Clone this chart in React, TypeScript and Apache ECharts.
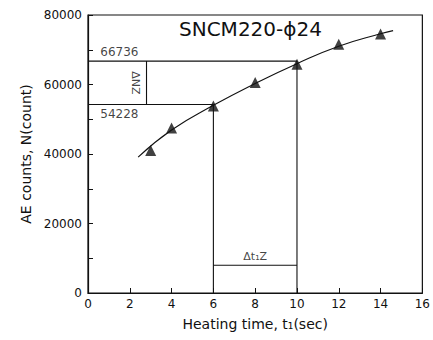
import React, { useEffect, useRef } from "react";
import * as echarts from "echarts";

const title = "SNCM220-ϕ24";
const xName = "Heating time, t₁(sec)";
const yName = "AE counts, N(count)";
const markerX = [3, 4, 6, 8, 10, 12, 14];
const markerY = [41000, 47500, 53800, 60600, 65800, 71600, 74500];
const curveX = [2.4, 4, 6, 8, 10, 12, 14, 14.6];
const curveY = [39100, 46900, 54000, 60300, 66000, 71000, 74600, 75500];
const levels = [54228, 66736];
const times = [6, 10];
const dtLevel = 8000;
const dnX = 2.8;
const dnLabel = "ΔNZ";
const dtLabel = "Δt₁Z";

const FONT = "DejaVu Sans";
const INK = "#111";

export default function App() {
  const ref = useRef<HTMLDivElement>(null);
  useEffect(() => {
    if (!ref.current) return;
    const chart = echarts.init(ref.current, null, { renderer: "svg" });
    const lineStyle = { color: INK, width: 1.1 };
    const seg = (pts: number[][]) => ({
      type: "line",
      data: pts,
      showSymbol: false,
      symbol: "none",
      lineStyle,
      silent: true,
    });
    const lbl = (x: number, y: number, text: string, extra: any) => ({
      type: "scatter",
      data: [[x, y]],
      symbolSize: 0,
      silent: true,
      label: {
        show: true,
        formatter: text,
        color: INK,
        fontFamily: FONT,
        fontSize: 12,
        ...extra,
      },
    });
    chart.setOption({
      animation: false,
      title: {
        text: title,
        left: 174,
        top: 14,
        textStyle: { fontFamily: FONT, fontSize: 20, fontWeight: "normal", color: INK },
      },
      grid: {
        left: 88,
        right: 9,
        top: 15,
        bottom: 47,
        show: true,
        borderColor: INK,
        borderWidth: 1.2,
      },
      xAxis: {
        type: "value",
        min: 0,
        max: 16,
        interval: 2,
        name: xName,
        nameLocation: "middle",
        nameGap: 24,
        nameTextStyle: { fontFamily: FONT, fontSize: 14, color: INK },
        axisLine: { show: true, lineStyle: { color: INK, width: 1.2 } },
        axisTick: { show: true, inside: true, length: 5, lineStyle: { color: INK } },
        axisLabel: { fontFamily: FONT, fontSize: 12, color: INK, margin: 5 },
        splitLine: { show: false },
      },
      yAxis: {
        type: "value",
        min: 0,
        max: 80000,
        interval: 20000,
        name: yName,
        nameLocation: "middle",
        nameGap: 55,
        nameTextStyle: { fontFamily: FONT, fontSize: 14, color: INK },
        axisLine: { show: true, lineStyle: { color: INK, width: 1.2 } },
        axisTick: { show: true, inside: true, length: 5, lineStyle: { color: INK } },
        minorTick: { show: true, splitNumber: 2, length: 5, lineStyle: { color: INK } },
        axisLabel: {
          fontFamily: FONT,
          fontSize: 12,
          color: INK,
          margin: 6,
          formatter: (v: number) => String(v),
        },
        splitLine: { show: false },
      },
      series: [
        {
          type: "line",
          data: curveX.map((x, i) => [x, curveY[i]]),
          smooth: true,
          showSymbol: false,
          symbol: "none",
          lineStyle,
        },
        {
          type: "scatter",
          data: markerX.map((x, i) => [x, markerY[i]]),
          symbol: "triangle",
          symbolSize: 11,
          itemStyle: { color: INK },
        },
        seg([[0, levels[1]], [times[1], levels[1]]]),
        seg([[0, levels[0]], [times[0], levels[0]]]),
        seg([[dnX, levels[0]], [dnX, levels[1]]]),
        seg([[times[0], 0], [times[0], levels[0]]]),
        seg([[times[1], 0], [times[1], levels[1]]]),
        seg([[times[0], dtLevel], [times[1], dtLevel]]),
        lbl(1.5, levels[1], String(levels[1]), { position: "top", distance: 3 }),
        lbl(1.5, levels[0], String(levels[0]), { position: "bottom", distance: 3 }),
        lbl(2.25, (levels[0] + levels[1]) / 2, dnLabel, { position: "inside", rotate: -90, fontSize: 11 }),
        lbl((times[0] + times[1]) / 2, dtLevel, dtLabel, { position: "top", distance: 3, fontSize: 11 }),
      ],
    });
    return () => chart.dispose();
  }, []);
  return (
    <div
      ref={ref}
      style={{ position: "absolute", left: 0, top: 0, width: 433, height: 340, background: "#fff" }}
    />
  );
}
